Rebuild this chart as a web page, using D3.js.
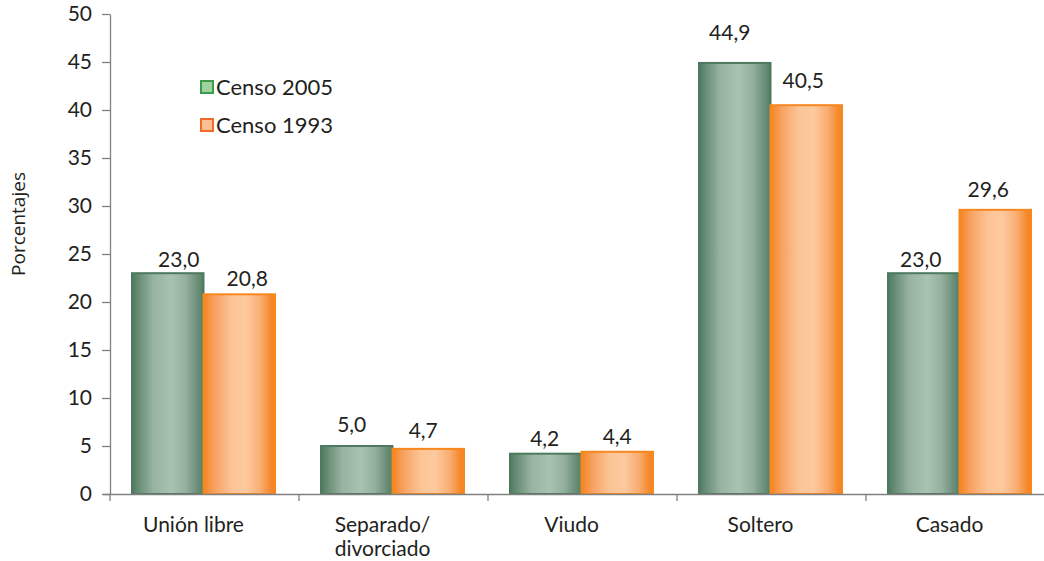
<!DOCTYPE html>
<html>
<head>
<meta charset="utf-8">
<script src="https://cdn.jsdelivr.net/npm/d3@7"></script>
<style>
  body { margin: 0; background: #fff; }
  svg { display: block; }
  text { fill: #231f20; }
</style>
</head>
<body>
<svg width="1044" height="561"></svg>
<script>
// Data
const categories = ["Unión libre", "Separado/\ndivorciado", "Viudo", "Soltero", "Casado"];
const seriesNames = ["Censo 2005", "Censo 1993"];
const censo2005 = [23.0, 5.0, 4.2, 44.9, 23.0];
const censo1993 = [20.8, 4.7, 4.4, 40.5, 29.6];
const yTicks = [0, 5, 10, 15, 20, 25, 30, 35, 40, 45, 50];

// Hand-placed label nudges (px), as in the original layout
const labelNudge = {
  "Censo 2005": {dx: [11, -5, -1, -5, -3], gap: [6, 14, 8, 23, 6]},
  "Censo 1993": {dx: [8, -5, 0, -3, -7], gap: [8, 11, 8, 17, 13]}
};

const svg = d3.select("svg");
const font = "Lato, 'DejaVu Sans', sans-serif";

// Scales
const x0 = d3.scaleBand()
    .domain(categories)
    .range([110, 1055])
    .paddingInner(0)
    .paddingOuter(0);

const x1 = d3.scaleBand()
    .domain(seriesNames)
    .range([22, 22 + 143])
    .padding(0);

const y = d3.scaleLinear()
    .domain([0, 50])
    .range([494, 14]);

// Gradients for the bars
const defs = svg.append("defs");
const gradGreen = defs.append("linearGradient").attr("id", "gGreen");
[[0, "#4f7a60"], [0.12, "#6e927b"], [0.3, "#98b3a2"], [0.55, "#a9c2b2"], [0.75, "#95b09f"], [0.9, "#6f917b"], [1, "#557f66"]]
  .forEach(s => gradGreen.append("stop").attr("offset", s[0]).attr("stop-color", s[1]));
const gradOrange = defs.append("linearGradient").attr("id", "gOrange");
[[0, "#f5831f"], [0.15, "#f7a160"], [0.4, "#fcc597"], [0.6, "#fdc99e"], [0.8, "#f9ad72"], [0.94, "#f58a2c"], [1, "#f5831f"]]
  .forEach(s => gradOrange.append("stop").attr("offset", s[0]).attr("stop-color", s[1]));

const fills = {"Censo 2005": "url(#gGreen)", "Censo 1993": "url(#gOrange)"};
const strokes = {"Censo 2005": "#4d7a5e", "Censo 1993": "#f7871f"};
const values = {"Censo 2005": censo2005, "Censo 1993": censo1993};

// Y axis
const yAxis = svg.append("g")
    .attr("transform", `translate(${x0.range()[0]},0)`)
    .call(d3.axisLeft(y).tickValues(yTicks).tickSize(8).tickSizeOuter(0).tickPadding(10));
yAxis.select(".domain").attr("stroke", "#808080").attr("stroke-width", 1.3);
yAxis.selectAll(".tick line").attr("stroke", "#808080").attr("stroke-width", 1.3);
yAxis.selectAll(".tick text")
    .attr("font-family", font)
    .attr("font-size", 21)
    .attr("fill", "#231f20");

// Bars
categories.forEach((c, i) => {
  seriesNames.forEach(s => {
    const v = values[s][i];
    const bx = x0(c) + x1(s);
    svg.append("rect")
        .attr("x", bx)
        .attr("y", y(v))
        .attr("width", x1.bandwidth())
        .attr("height", y(0) - y(v))
        .attr("fill", fills[s])
        .attr("stroke", strokes[s])
        .attr("stroke-width", 2);
    svg.append("text")
        .attr("x", bx + x1.bandwidth() / 2 + labelNudge[s].dx[i])
        .attr("y", y(v) - labelNudge[s].gap[i])
        .attr("text-anchor", "middle")
        .attr("font-family", font)
        .attr("font-size", 21)
        .text(d3.format(".1f")(v).replace(".", ","));
  });
});

// X axis
const xAxis = svg.append("g")
    .attr("transform", `translate(0,${y(0)})`)
    .call(d3.axisBottom(x0).tickSize(0).tickFormat(""));
xAxis.select(".domain").attr("stroke", "#808080").attr("stroke-width", 1.3)
    .attr("d", `M103,0.5H1044`);
// tick marks at band boundaries
categories.forEach(c => {
  svg.append("line")
      .attr("x1", x0(c)).attr("x2", x0(c))
      .attr("y1", y(0)).attr("y2", y(0) + 7)
      .attr("stroke", "#808080").attr("stroke-width", 1.3);
});

// Category labels
categories.forEach(c => {
  const cx = x0(c) + x0.bandwidth() / 2 - 11;
  c.split("\n").forEach((line, k) => {
    svg.append("text")
        .attr("x", cx)
        .attr("y", 532 + k * 24)
        .attr("text-anchor", "middle")
        .attr("font-family", font)
        .attr("font-size", 21)
        .text(line);
  });
});

// Y axis title
svg.append("text")
    .attr("transform", "translate(25,224) rotate(-90)")
    .attr("text-anchor", "middle")
    .attr("font-family", "'Open Sans', sans-serif")
    .attr("font-size", 19)
    .text("Porcentajes");

// Legend
const legendFill = {"Censo 2005": ["#3c9b4a", "#9fd29f"], "Censo 1993": ["#f26b2a", "#fbbf94"]};
seriesNames.forEach((s, i) => {
  const ly = 81 + i * 38;
  svg.append("rect")
      .attr("x", 201).attr("y", ly)
      .attr("width", 12).attr("height", 12)
      .attr("fill", legendFill[s][1])
      .attr("stroke", legendFill[s][0])
      .attr("stroke-width", 2);
  svg.append("text")
      .attr("x", 216).attr("y", ly + 14)
      .attr("font-family", font)
      .attr("font-size", 22)
      .text(s);
});
</script>
</body>
</html>
